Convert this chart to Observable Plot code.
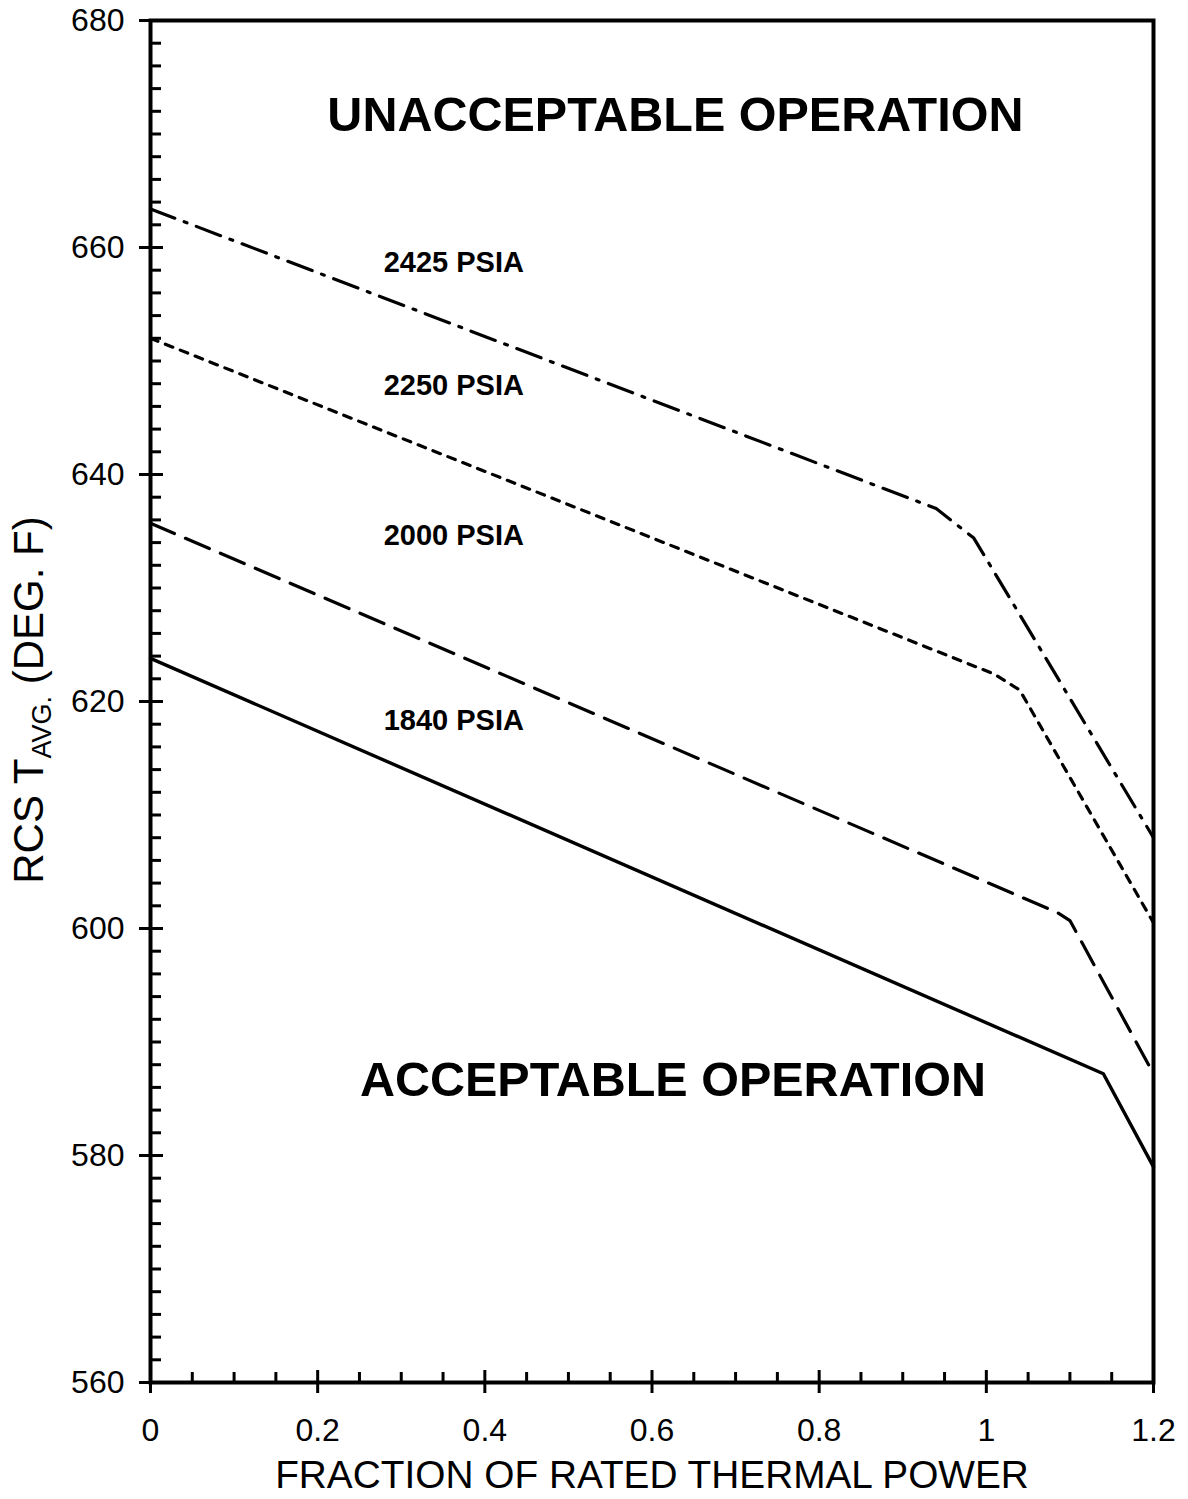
<!DOCTYPE html>
<html>
<head>
<meta charset="utf-8">
<script src="https://cdn.jsdelivr.net/npm/d3@7"></script>
<script src="https://cdn.jsdelivr.net/npm/@observablehq/plot@0.6"></script>
<style>
  html, body { margin: 0; padding: 0; background: #fff; }
  #chart svg { font-family: "Liberation Sans", Arial, sans-serif; }
</style>
</head>
<body>
<div id="chart"></div>
<script>
// ---- Data ----
const power2425 = [0, 0.94, 0.985, 1.2];
const temp2425  = [663.4, 637.0, 634.4, 608.0];

const power2250 = [0, 1.01, 1.04, 1.2];
const temp2250  = [652.0, 622.4, 621.0, 600.5];

const power2000 = [0, 1.085, 1.10, 1.2];
const temp2000  = [635.7, 601.4, 600.7, 587.2];

const power1840 = [0, 1.14, 1.2];
const temp1840  = [623.8, 587.2, 579.0];

const xMajorTicks = [0, 0.2, 0.4, 0.6, 0.8, 1, 1.2];
const xTickLabels = ["0", "0.2", "0.4", "0.6", "0.8", "1", "1.2"];
const xMinorTicks = [0.05,0.1,0.15,0.25,0.3,0.35,0.45,0.5,0.55,0.65,0.7,0.75,0.85,0.9,0.95,1.05,1.1,1.15];
const yMajorTicks = [560, 580, 600, 620, 640, 660, 680];
const yMinorTicks = [562,564,566,568,570,572,574,576,578,582,584,586,588,590,592,594,596,598,
                     602,604,606,608,610,612,614,616,618,622,624,626,628,630,632,634,636,638,
                     642,644,646,648,650,652,654,656,658,662,664,666,668,670,672,674,676,678];

const seriesLabels = ["2425 PSIA", "2250 PSIA", "2000 PSIA", "1840 PSIA"];
const regionLabels = ["UNACCEPTABLE OPERATION", "ACCEPTABLE OPERATION"];
const xTitle = "FRACTION OF RATED THERMAL POWER";

// ---- Build tables ----
const toRows = (xs, ys) => xs.map((x, i) => ({x, y: ys[i]}));
const s2425 = toRows(power2425, temp2425);
const s2250 = toRows(power2250, temp2250);
const s2000 = toRows(power2000, temp2000);
const s1840 = toRows(power1840, temp1840);

// annotation anchors (data coordinates)
const seriesLabelAnchors = [
  {text: seriesLabels[0], x: 0.279, y: 658.7},
  {text: seriesLabels[1], x: 0.279, y: 647.8},
  {text: seriesLabels[2], x: 0.279, y: 634.6},
  {text: seriesLabels[3], x: 0.279, y: 618.3}
];
const regionLabelAnchors = [
  {text: regionLabels[0], x: 0.628, y: 671.6},
  {text: regionLabels[1], x: 0.625, y: 586.6}
];

const plot = Plot.plot({
  width: 1188,
  height: 1499,
  marginLeft: 150,
  marginRight: 35,
  marginTop: 20,
  marginBottom: 117,
  style: {fontFamily: "'Liberation Sans', Arial, sans-serif", background: "#fff", color: "#000", overflow: "visible"},
  x: {domain: [0, 1.2]},
  y: {domain: [560, 680]},
  marks: [
    // minor ticks (inside)
    Plot.axisY(yMinorTicks, {anchor: "left", tickSize: 11, dx: 11, strokeWidth: 3, tickFormat: () => "", label: null}),
    Plot.axisX(xMinorTicks, {anchor: "bottom", tickSize: 10, dy: -10, strokeWidth: 3, tickFormat: () => "", label: null}),
    // major ticks (crossing)
    Plot.axisY(yMajorTicks, {anchor: "left", tickSize: 24, dx: 13, strokeWidth: 3, tickFormat: () => "", label: null}),
    Plot.axisX(xMajorTicks, {anchor: "bottom", tickSize: 23, dy: -12, strokeWidth: 3, tickFormat: () => "", label: null}),
    // tick labels
    Plot.axisY(yMajorTicks, {anchor: "left", tickSize: 0, tickPadding: 26, fontSize: 32, label: null}),
    Plot.axisX(xMajorTicks, {anchor: "bottom", tickSize: 0, tickPadding: 36, fontSize: 32, label: null,
      tickFormat: (d) => xTickLabels[xMajorTicks.indexOf(d)]}),
    // frame
    Plot.frame({stroke: "#000", strokeWidth: 4}),
    // series lines
    Plot.line(s2425, {x: "x", y: "y", stroke: "#000", strokeWidth: 3.2, strokeDasharray: "26,10,3,10"}),
    Plot.line(s2250, {x: "x", y: "y", stroke: "#000", strokeWidth: 3.2, strokeDasharray: "8,8"}),
    Plot.line(s2000, {x: "x", y: "y", stroke: "#000", strokeWidth: 3.2, strokeDasharray: "26,12"}),
    Plot.line(s1840, {x: "x", y: "y", stroke: "#000", strokeWidth: 3.4}),
    // labels
    Plot.text(seriesLabelAnchors, {x: "x", y: "y", text: "text", textAnchor: "start", fontSize: 29, fontWeight: "bold", fill: "#000"}),
    Plot.text(regionLabelAnchors, {x: "x", y: "y", text: "text", textAnchor: "middle", fontSize: 48.5, fontWeight: "bold", fill: "#000"}),
    Plot.text([xTitle], {frameAnchor: "bottom", dy: 105, fontSize: 38.8, fill: "#000"})
  ]
});

document.getElementById("chart").appendChild(plot);

// Y-axis title with subscript
const svg = d3.select(plot);
const yt = svg.append("text")
  .attr("transform", "translate(43,700) rotate(-90)")
  .attr("text-anchor", "middle")
  .attr("font-family", "'Liberation Sans', Arial, sans-serif")
  .attr("font-size", 42)
  .attr("fill", "#000");
yt.append("tspan").text("RCS T");
yt.append("tspan").attr("font-size", 27).attr("dy", 8).text("AVG.");
yt.append("tspan").attr("dy", -8).text(" (DEG. F)");
</script>
</body>
</html>
